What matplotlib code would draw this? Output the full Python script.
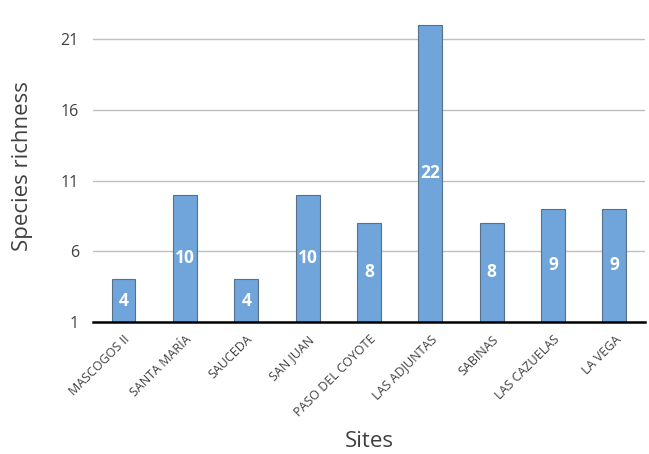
import matplotlib.pyplot as plt

sites = ["MASCOGOS II", "SANTA MARÍA", "SAUCEDA", "SAN JUAN", "PASO DEL COYOTE",
         "LAS ADJUNTAS", "SABINAS", "LAS CAZUELAS", "LA VEGA"]
richness = [4, 10, 4, 10, 8, 22, 8, 9, 9]
yticks = [1, 6, 11, 16, 21]

plt.rcParams['font.family'] = ['Open Sans', 'DejaVu Sans']

fig = plt.figure(figsize=(6.49, 4.54), dpi=100)
ax = fig.add_axes([0.143, 0.291, 0.851, 0.685])

x = range(len(sites))
ax.bar(x, richness, width=0.39, color="#6FA5DB", edgecolor="#56708A", linewidth=0.8, zorder=3)

base = 1
for i, v in enumerate(richness):
    ax.text(i, (base + v) / 2, str(v), ha="center", va="center", color="white",
            fontsize=12.5, fontweight="bold", zorder=4)

ax.set_ylim(1, 23)
ax.set_xlim(-0.5, len(sites) - 0.5)
ax.set_yticks(yticks)
ax.yaxis.grid(True, color="#BFBFBF", linewidth=1, zorder=0)
for s in ["top", "right", "left"]:
    ax.spines[s].set_visible(False)
ax.spines["bottom"].set_color("black")
ax.spines["bottom"].set_linewidth(1.8)
ax.spines["bottom"].set_zorder(5)
ax.tick_params(axis="both", length=0)
ax.tick_params(axis="y", labelsize=11.5, labelcolor="#404040", pad=10)
ax.set_xticks(list(x))
ax.set_xticklabels(sites, rotation=45, ha="right", rotation_mode="anchor",
                   fontsize=9, color="#404040")
ax.tick_params(axis="x", pad=8)

ax.set_ylabel("Species richness", fontsize=16, color="#404040", labelpad=20)
ax.set_xlabel("Sites", fontsize=16, color="#404040", labelpad=8)

fig.savefig("out.png", dpi=100)
